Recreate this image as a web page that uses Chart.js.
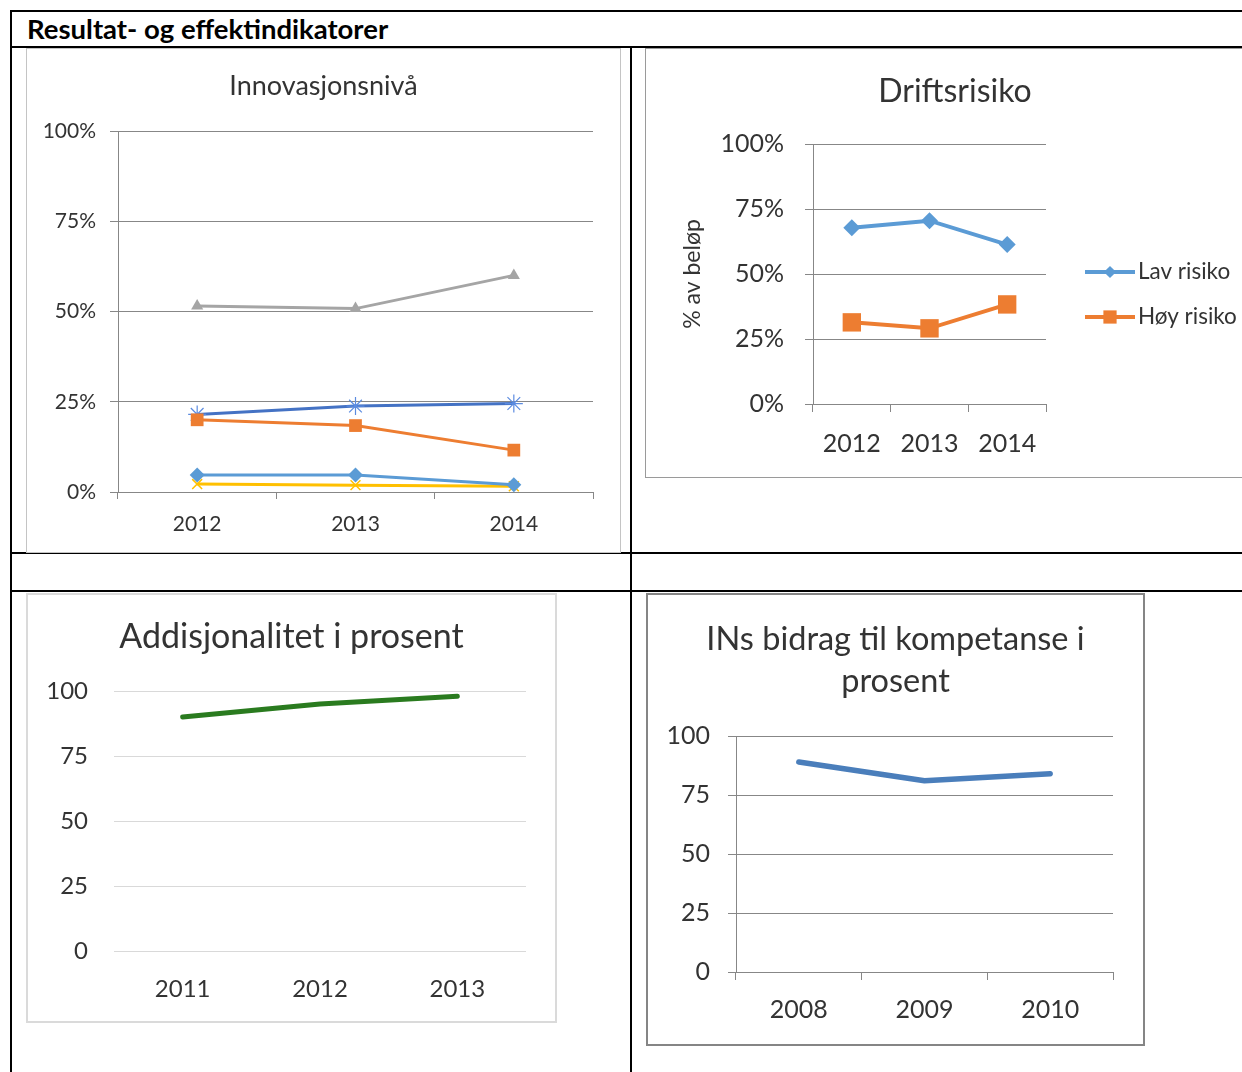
<!DOCTYPE html>
<html>
<head>
<meta charset="utf-8">
<script src="https://cdn.jsdelivr.net/npm/chart.js@4.4.1/dist/chart.umd.min.js"></script>
<style>
  html, body { margin: 0; padding: 0; background: #fff; }
  body { width: 1242px; height: 1072px; position: relative; overflow: hidden; font-family: Lato, sans-serif; }
  .rule { position: absolute; background: #000; }
  .box { position: absolute; box-sizing: border-box; pointer-events: none; }
  canvas { position: absolute; }
  #header { position: absolute; left: 27px; top: 12px; font: bold 27.5px Lato, sans-serif; color: #000; white-space: nowrap; }
</style>
</head>
<body>
<!-- table rules -->
<div class="rule" style="left:10px;top:10px;width:1240px;height:2px"></div>
<div class="rule" style="left:10px;top:10px;width:2px;height:1070px"></div>
<div class="rule" style="left:10px;top:46px;width:1240px;height:2px"></div>
<div class="rule" style="left:630px;top:46px;width:2px;height:1030px"></div>
<div class="rule" style="left:10px;top:552px;width:1240px;height:2px"></div>
<div class="rule" style="left:10px;top:590px;width:1240px;height:2px"></div>
<div id="header">Resultat- og effektindikatorer</div>

<canvas id="c-innov" width="595" height="505" style="left:26px;top:48px"></canvas>
<div class="box" style="left:26px;top:48px;width:595px;height:505px;border:1px solid #c4c4c4"></div>

<canvas id="c-drift" width="620" height="430" style="left:645px;top:48px"></canvas>
<div class="box" style="left:645px;top:48px;width:620px;height:430px;border:1px solid #9a9a9a"></div>

<canvas id="c-add" width="531" height="430" style="left:26px;top:593px"></canvas>
<div class="box" style="left:26px;top:593px;width:531px;height:430px;border:2px solid #dadada"></div>

<canvas id="c-in" width="499" height="453" style="left:646px;top:593px"></canvas>
<div class="box" style="left:646px;top:593px;width:499px;height:453px;border:2px solid #858585"></div>

<script>
// ── Data ──────────────────────────────────────────────────────────────────────
const innovYears     = ['2012', '2013', '2014'];
const innovGray      = [51.5, 50.8, 60.0];
const innovDarkBlue  = [21.5, 23.8, 24.5];
const innovOrange    = [20.0, 18.4, 11.6];
const innovLightBlue = [4.7, 4.7, 2.0];
const innovYellow    = [2.2, 1.9, 1.6];

const driftYears = ['2012', '2013', '2014'];
const lavRisiko  = [67.8, 70.5, 61.3];
const hoyRisiko  = [31.4, 29.1, 38.3];

const addYears  = ['2011', '2012', '2013'];
const addValues = [90, 95, 98];

const inYears  = ['2008', '2009', '2010'];
const inValues = [89, 81, 84];

const pctTicks = [0, 25, 50, 75, 100];

// ── Shared bits ───────────────────────────────────────────────────────────────
const FONT = 'Lato';
const TXT  = '#333333';
const GRID = '#878787';

function fixW(w) { return s => { s.width = w; }; }
function fixH(h) { return s => { s.height = h; }; }

// keep the title centred on the whole chart box, not just the padded area
const fullTitle = {
  id: 'fullTitle',
  afterLayout(chart) {
    const t = chart.titleBlock;
    if (!t) return;
    t.left = 0;
    t.right = chart.width;
    t.width = chart.width;
  },
};
Chart.register(fullTitle);

function catAxis(height, size, tickLen, pad, showTicks) {
  return {
    type: 'category',
    offset: true,
    afterFit: fixH(height),
    grid: { offset: true, drawOnChartArea: false, drawTicks: showTicks, tickLength: tickLen, color: GRID },
    border: { display: showTicks, color: GRID },
    ticks: { color: TXT, padding: pad, font: { family: FONT, size } },
  };
}

function valAxis(width, size, tickLen, pad, opts = {}) {
  return {
    min: 0, max: 100,
    afterFit: fixW(width),
    afterBuildTicks: s => { s.ticks = pctTicks.map(v => ({ value: v })); },
    grid: { color: opts.grid || GRID, drawTicks: tickLen > 0, tickLength: tickLen },
    border: { display: opts.axisLine !== false, color: GRID },
    ticks: { color: TXT, padding: pad, font: { family: FONT, size }, callback: opts.fmt || (v => v) },
    title: opts.title || { display: false },
  };
}

function titleOpts(text, size, top, bottom, lh) {
  return {
    display: true, text, color: TXT,
    font: { family: FONT, size, weight: 'normal', lineHeight: lh || 1.2 },
    padding: { top, bottom },
  };
}

Chart.defaults.animation = false;
Chart.defaults.responsive = false;

// ── Innovasjonsnivå ───────────────────────────────────────────────────────────
new Chart(document.getElementById('c-innov'), {
  type: 'line',
  data: {
    labels: innovYears,
    datasets: [
      { label: 'A', data: innovLightBlue, borderColor: '#5B9BD5', backgroundColor: '#5B9BD5',
        pointStyle: 'rectRot', pointRadius: 7.5, pointBorderWidth: 0, borderWidth: 3 },
      { label: 'B', data: innovYellow, borderColor: '#FFC000', backgroundColor: '#FFC000',
        pointStyle: 'crossRot', pointRadius: 7, pointBorderWidth: 1.5, borderWidth: 3 },
      { label: 'C', data: innovOrange, borderColor: '#ED7D31', backgroundColor: '#ED7D31',
        pointStyle: 'rect', pointRadius: 9, pointBorderWidth: 0, borderWidth: 3 },
      { label: 'D', data: innovDarkBlue, borderColor: '#4472C4', backgroundColor: '#5B8BE0',
        pointBorderColor: '#5B8BE0', pointStyle: 'star', pointRadius: 9, pointBorderWidth: 1.2, borderWidth: 3 },
      { label: 'E', data: innovGray, borderColor: '#A5A5A5', backgroundColor: '#A5A5A5',
        pointStyle: 'triangle', pointRadius: 7, pointBorderWidth: 0, borderWidth: 3 },
    ],
  },
  options: {
    layout: { padding: { left: 0, right: 28, top: 0, bottom: 0 } },
    elements: { line: { tension: 0 } },
    plugins: {
      legend: { display: false },
      tooltip: { enabled: false },
      title: titleOpts('Innovasjonsnivå', 27, 22, 28.6),
    },
    scales: {
      x: catAxis(61, 21, 7, 13, true),
      y: valAxis(92, 21, 8, 14, { fmt: v => v + '%' }),
    },
  },
});

// ── Driftsrisiko ──────────────────────────────────────────────────────────────
const lineLegend = {
  id: 'lineLegend',
  afterDraw(chart, args, o) {
    const { ctx, chartArea } = chart;
    const x0 = chartArea.right + o.gap;
    chart.data.datasets.forEach((ds, i) => {
      const y = chartArea.top + o.top + i * o.spacing;
      ctx.save();
      ctx.strokeStyle = ds.borderColor;
      ctx.lineWidth = ds.borderWidth;
      ctx.beginPath();
      ctx.moveTo(x0, y);
      ctx.lineTo(x0 + o.lineLen, y);
      ctx.stroke();
      ctx.fillStyle = ds.backgroundColor;
      Chart.helpers.drawPoint(ctx, { pointStyle: ds.pointStyle, radius: ds.pointRadius * o.scale, borderWidth: 0, rotation: 0 },
        x0 + o.lineLen / 2, y);
      ctx.fillStyle = TXT;
      ctx.font = `${o.size}px ${FONT}`;
      ctx.textBaseline = 'middle';
      ctx.fillText(ds.label, x0 + o.lineLen + 3, y);
      ctx.restore();
    });
  },
};

new Chart(document.getElementById('c-drift'), {
  type: 'line',
  data: {
    labels: driftYears,
    datasets: [
      { label: 'Lav risiko', data: lavRisiko, borderColor: '#5B9BD5', backgroundColor: '#5B9BD5',
        pointStyle: 'rectRot', pointRadius: 8.5, pointBorderWidth: 0, borderWidth: 4 },
      { label: 'Høy risiko', data: hoyRisiko, borderColor: '#ED7D31', backgroundColor: '#ED7D31',
        pointStyle: 'rect', pointRadius: 13, pointBorderWidth: 0, borderWidth: 4 },
    ],
  },
  options: {
    layout: { padding: { left: 0, right: 219, top: 0, bottom: 0 } },
    elements: { line: { tension: 0 } },
    plugins: {
      legend: { display: false },
      tooltip: { enabled: false },
      title: titleOpts('Driftsrisiko', 32, 24.8, 32.8),
      lineLegend: { gap: 39, top: 128, spacing: 45, lineLen: 50, size: 22.5, scale: 0.72 },
    },
    scales: {
      x: catAxis(74, 25, 8, 17, true),
      y: valAxis(168, 25, 8, 21, {
        fmt: v => v + '%',
        title: { display: true, text: '% av beløp', color: TXT, font: { family: FONT, size: 23 }, padding: { top: 34, bottom: 0 } },
      }),
    },
  },
  plugins: [lineLegend],
});

// ── Addisjonalitet i prosent ──────────────────────────────────────────────────
new Chart(document.getElementById('c-add'), {
  type: 'line',
  data: {
    labels: addYears,
    datasets: [
      { label: 'Addisjonalitet', data: addValues, borderColor: '#2A7B1F', borderWidth: 5,
        pointRadius: 0, borderCapStyle: 'round', borderJoinStyle: 'round' },
    ],
  },
  options: {
    layout: { padding: { left: 0, right: 31, top: 0, bottom: 0 } },
    elements: { line: { tension: 0 } },
    plugins: {
      legend: { display: false },
      tooltip: { enabled: false },
      title: titleOpts('Addisjonalitet i prosent', 34, 23.6, 33.6),
    },
    scales: {
      x: catAxis(72, 24, 0, 23.6, false),
      y: valAxis(88, 24, 0, 26, { grid: '#d9d9d9', axisLine: false }),
    },
  },
});

// ── INs bidrag til kompetanse i prosent ───────────────────────────────────────
new Chart(document.getElementById('c-in'), {
  type: 'line',
  data: {
    labels: inYears,
    datasets: [
      { label: 'Bidrag', data: inValues, borderColor: '#4A7EBB', borderWidth: 5.5,
        pointRadius: 0, borderCapStyle: 'round', borderJoinStyle: 'round' },
    ],
  },
  options: {
    layout: { padding: { left: 0, right: 32, top: 0, bottom: 0 } },
    elements: { line: { tension: 0 } },
    plugins: {
      legend: { display: false },
      tooltip: { enabled: false },
      title: titleOpts(['INs bidrag til kompetanse i', 'prosent'], 32.5, 25.5, 33.5, 42 / 32.5),
    },
    scales: {
      x: catAxis(74, 25, 8, 15, true),
      y: valAxis(90, 25, 8, 18),
    },
  },
});
</script>
</body>
</html>
